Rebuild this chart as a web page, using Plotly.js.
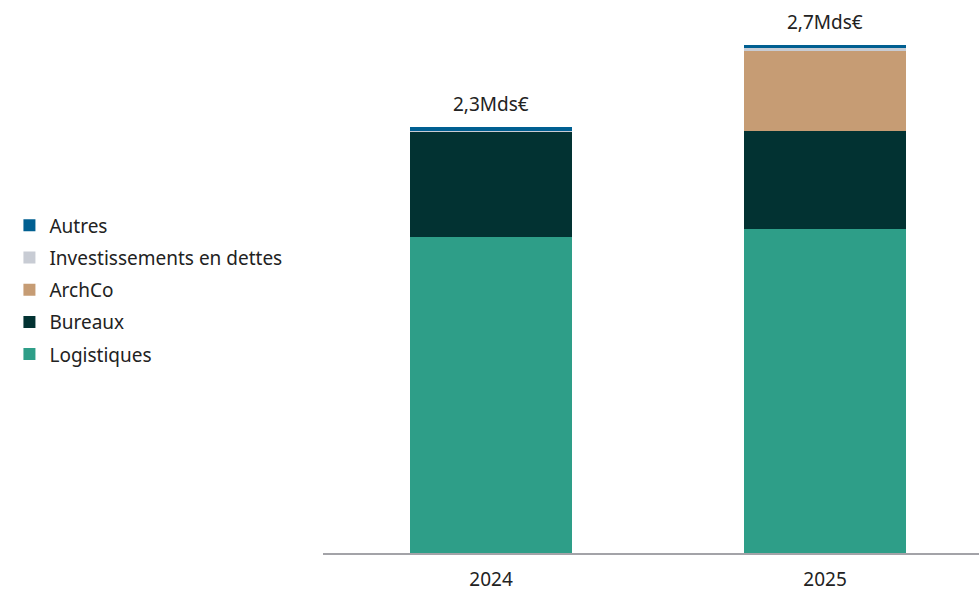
<!DOCTYPE html>
<html>
<head>
<meta charset="utf-8">
<script src="https://cdn.plot.ly/plotly-3.0.1.min.js"></script>
<style>html,body{margin:0;padding:0;background:#fff;}#chart{width:979px;height:592px;}</style>
</head>
<body>
<div id="chart"></div>
<script>
const years = ['2024', '2025'];
const logistiques = [1.706, 1.750];
const bureaux = [0.567, 0.530];
const archco = [0.000, 0.432];
const dettes = [0.004, 0.016];
const autres = [0.022, 0.016];
const totalLabels = ['2,3Mds€', '2,7Mds€'];

const seriesNames = ['Logistiques', 'Bureaux', 'ArchCo', 'Investissements en dettes', 'Autres'];
const seriesValues = [logistiques, bureaux, archco, dettes, autres];
const seriesColors = ['#2e9e88', '#023232', '#c69c74', '#c8ccd4', '#005f91'];

const FONT = 'Noto Sans, Open Sans, sans-serif';

const traces = seriesNames.map((n, i) => ({
  type: 'bar',
  name: n,
  x: years,
  y: seriesValues[i],
  width: 0.485,
  marker: {color: seriesColors[i], line: {width: 0}},
  legendgroup: n,
  legendrank: 1000 - i,
  hoverinfo: 'name+y'
}));

const totals = years.map((_, j) => seriesValues.reduce((s, arr) => s + arr[j], 0));

const annotations = years.map((yr, j) => ({
  x: j, y: totals[j], xref: 'x', yref: 'y',
  text: totalLabels[j], showarrow: false,
  yanchor: 'bottom', yshift: 8,
  font: {family: FONT, size: 19, color: '#222'}
}));

const layout = {
  width: 979, height: 592,
  margin: {l: 323, r: 0, t: 30, b: 39},
  paper_bgcolor: '#fff', plot_bgcolor: '#fff',
  barmode: 'stack',
  font: {family: FONT, size: 19, color: '#222'},
  xaxis: {
    type: 'category', range: [-0.503, 1.461],
    showline: true, linecolor: '#a3a3a8', linewidth: 2,
    ticks: '', showgrid: false, zeroline: false,
    ticklabelstandoff: 8,
    tickfont: {family: FONT, size: 19, color: '#222'}
  },
  yaxis: {
    range: [0, 2.824], visible: false, showgrid: false, zeroline: false
  },
  showlegend: true,
  legend: {
    x: -0.478, xanchor: 'left', y: 0.503, yanchor: 'middle',
    traceorder: 'grouped', tracegroupgap: 4.5,
    font: {family: FONT, size: 19, color: '#222'},
    bgcolor: 'rgba(0,0,0,0)'
  },
  annotations: annotations
};

Plotly.newPlot('chart', traces, layout, {displayModeBar: false, staticPlot: true});
</script>
</body>
</html>
